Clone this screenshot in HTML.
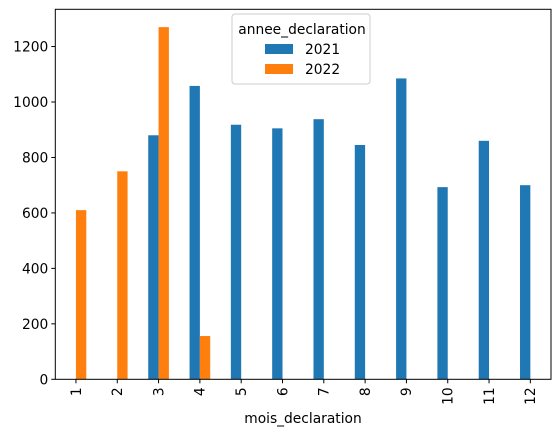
<!DOCTYPE html>
<html><head><meta charset="utf-8"><style>
body{margin:0;background:#fff;font-family:"Liberation Sans","DejaVu Sans",sans-serif;}
text{font-family:"DejaVu Sans","Liberation Sans",sans-serif;font-size:13.8px;fill:#000}
</style></head><body>
<svg id="chart" width="560" height="436">
<g id="bars"></g>
<rect x="55.3" y="9.3" width="495.7" height="370" fill="none" stroke="#000" stroke-width="1"/>
<g id="axes"></g>
<text x="303" y="423" text-anchor="middle">mois_declaration</text>
<g>
<rect x="232" y="14" width="138" height="70" rx="3" fill="#fff" fill-opacity="0.8" stroke="#ccc"/>
<text x="302" y="34" text-anchor="middle">annee_declaration</text>
<rect x="265" y="44" width="28" height="10" fill="#1f77b4"/>
<text x="305" y="54">2021</text>
<rect x="265" y="64" width="28" height="10" fill="#ff7f0e"/>
<text x="305" y="74">2022</text>
</g>
</svg>
<script>
const categories=["1","2","3","4","5","6","7","8","9","10","11","12"];
const series2021=[0,0,880,1058,918,905,938,845,1085,693,860,700];
const series2022=[610,750,1270,156,0,0,0,0,0,0,0,0];
const yTicks=[0,200,400,600,800,1000,1200];
const NS="http://www.w3.org/2000/svg";
const L=55.3,R=551,B=379.3,K=0.2773;
const step=(R-L)/categories.length;
const xc=i=>L+step*(i+0.5);
const y=v=>B-v*K;
const bw=step*0.25;
const bars=document.getElementById('bars'),axes=document.getElementById('axes');
function mk(t,a,p){const e=document.createElementNS(NS,t);for(const k in a)e.setAttribute(k,a[k]);p.appendChild(e);return e;}
categories.forEach((c,i)=>{
 if(series2021[i]>0){const r=mk('rect',{x:xc(i)-bw,y:y(series2021[i]),width:bw,height:B-y(series2021[i]),fill:'#1f77b4'},bars);
 
 }
 if(series2022[i]>0){const r=mk('rect',{x:xc(i),y:y(series2022[i]),width:bw,height:B-y(series2022[i]),fill:'#ff7f0e'},bars);
 
 }
 mk('line',{x1:xc(i),x2:xc(i),y1:B,y2:B+4,stroke:'#000'},axes);
 const t=mk('text',{x:0,y:0,'text-anchor':'end',transform:`translate(${xc(i)+4.8},${B+8}) rotate(-90)`},axes);
 t.textContent=c;
 
 
});
yTicks.forEach(v=>{
 mk('line',{x1:L-4,x2:L,y1:y(v),y2:y(v),stroke:'#000'},axes);
 const t=mk('text',{x:L-7,y:y(v)+5,'text-anchor':'end'},axes);
 t.textContent=v;
 
 
});
</script>
</body></html>
